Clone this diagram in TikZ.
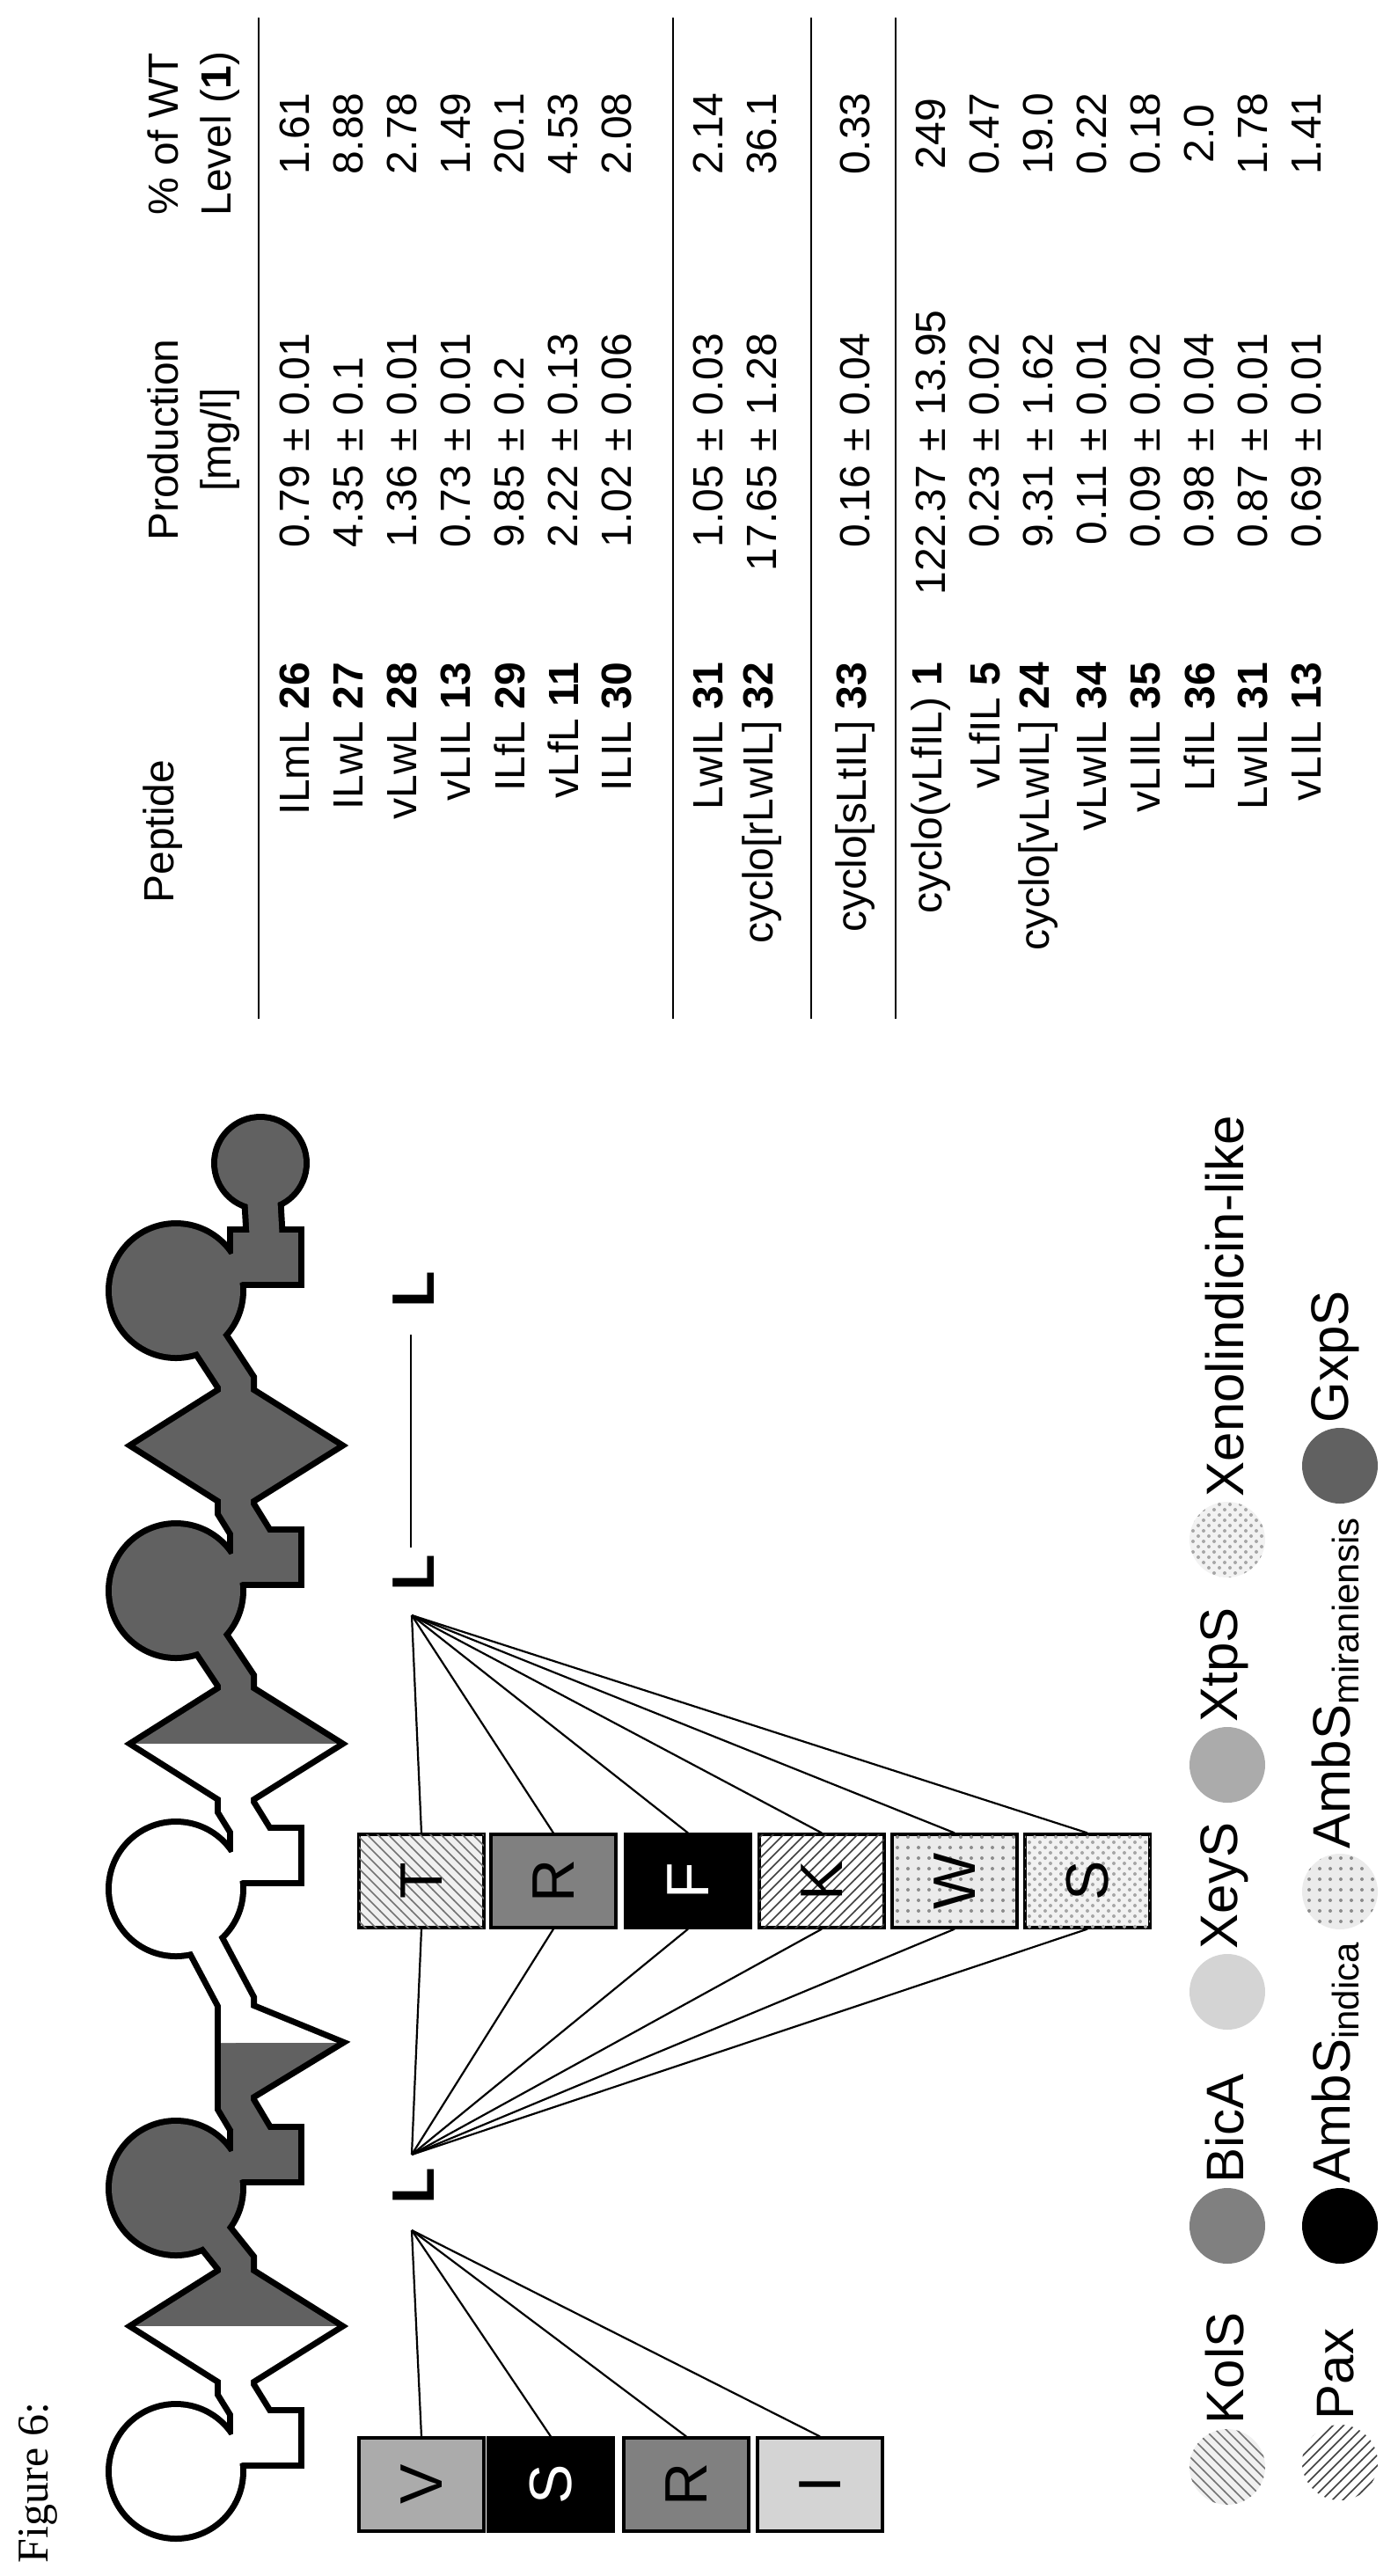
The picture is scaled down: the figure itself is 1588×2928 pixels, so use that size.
\documentclass[tikz,border=0pt]{standalone}
\usepackage{fontspec}
\setmainfont{Liberation Sans}
\newfontfamily\seriffam{Liberation Serif}
\usetikzlibrary{patterns}
\colorlet{dk}{black!62}
\begin{document}
\begin{tikzpicture}[x=0.25pt,y=-0.25pt,
  tbl/.style={rotate=90,inner sep=0pt,font=\fontsize{12}{14}\selectfont},
  hline/.style={line width=0.7pt},
  ol/.style={draw=black,line width=3.5pt},
  neckol/.style={draw=black,line width=12pt},
  neck/.style={line width=8.5pt},
  box/.style={rotate=90,draw=black,line width=0.8pt,minimum width=26.5pt,minimum height=35.5pt,inner sep=0pt,font=\fontsize{17}{17}\selectfont},
  fan/.style={line width=0.55pt},
  Lab/.style={rotate=90,inner sep=0pt,font=\fontsize{17}{17}\selectfont\bfseries},
  lg/.style={rotate=90,anchor=west,inner sep=0pt,font=\fontsize{15}{15}\selectfont},
  pKolS/.style={fill=black!6,postaction={pattern=north west lines,pattern color=black!55}},
  pPax/.style={fill=white,postaction={pattern=north east lines,pattern color=black!75}},
  pBicA/.style={fill=black!50},
  pXeyS/.style={fill=black!17},
  pXtpS/.style={fill=black!33},
  pAmbI/.style={fill=black},
  pAmbM/.style={fill=black!8,postaction={pattern=dots,pattern color=black!45}},
  pXeno/.style={fill=black!5,postaction={pattern=crosshatch dots,pattern color=black!35}},
  pGxp/.style={fill=dk}]
\useasboundingbox (0,0) rectangle (1588,2928);

% ---------------- table ----------------
\node[tbl] (hPep) at (185,945) {Peptide};
\node[tbl] (hProd) at (185,500) {Production};
\node[tbl] (hMg) at (250,500) {[mg/l]};
\node[tbl] (hWT) at (185,152) {\% of WT};
\node[tbl] (hLv) at (250,152) {Level (\textbf{1})};
\coordinate (l1a) at (294,20); \coordinate (l1b) at (294,1158);
\coordinate (l2a) at (765,20); \coordinate (l2b) at (765,1158);
\coordinate (l3a) at (922,20); \coordinate (l3b) at (922,1158);
\coordinate (l4a) at (1018,20); \coordinate (l4b) at (1018,1158);
\draw[hline] (l1a) -- (l1b);
\draw[hline] (l2a) -- (l2b);
\draw[hline] (l3a) -- (l3b);
\draw[hline] (l4a) -- (l4b);
\foreach \r/\n/\a/\b/\p in {
 335/ILmL \textbf{26}/0.79/0.01/1.61,
 396/ILwL \textbf{27}/4.35/0.1/8.88,
 457/vLwL \textbf{28}/1.36/0.01/2.78,
 518/vLIL \textbf{13}/0.73/0.01/1.49,
 579/ILfL \textbf{29}/9.85/0.2/20.1,
 640/vLfL \textbf{11}/2.22/0.13/4.53,
 701/ILIL \textbf{30}/1.02/0.06/2.08,
 805/LwIL \textbf{31}/1.05/0.03/2.14,
 866/cyclo[rLwIL] \textbf{32}/17.65/1.28/36.1,
 972/cyclo[sLtIL] \textbf{33}/0.16/0.04/0.33,
 1058/cyclo(vLfIL) \textbf{1}/122.37/13.95/249,
 1119/vLfIL \textbf{5}/0.23/0.02/0.47,
 1180/cyclo[vLwIL] \textbf{24}/9.31/1.62/19.0,
 1241/vLwIL \textbf{34}/0.11/0.01/0.22,
 1302/vLIIL \textbf{35}/0.09/0.02/0.18,
 1363/LfIL \textbf{36}/0.98/0.04/2.0,
 1424/LwIL \textbf{31}/0.87/0.01/1.78,
 1485/vLIL \textbf{13}/0.69/0.01/1.41}{
  \node[tbl,anchor=east] (pep\r) at (\r,752) {\n};
  \node[tbl,anchor=east] (pa\r) at (\r,514) {\a\kern0.3em};
  \node[tbl,anchor=west] (pb\r) at (\r,514) {±\kern0.3em\b};
  \node[tbl] (pw\r) at (\r,152) {\p};
}

% ---------------- module chain ----------------
\draw[neckol] (200,2809)--(302,2771)--(268,2716)--(268,2644)--(268,2572)--(200,2487)
  --(302,2449)--(268,2392)--(268,2322)--(268,2275)--(200,2147)
  --(302,2109)--(268,2054)--(268,1982)--(268,1910)--(200,1808)
  --(302,1770)--(268,1715)--(268,1643)--(268,1571)--(200,1467)
  --(302,1429)--(296,1322);
\foreach \c in {2809,2487,2147,1808,1467}{
  \path[ol] (200,\c) circle (73);
  \path[ol] (265,\c-66) rectangle (339,\c-10);
}
\path[ol] (296,1322) circle (49);
\foreach \a in {2644,1982,1643}{
  \path[ol] (154,\a)--(268,\a-72)--(383,\a)--(268,\a+72)--cycle;
}
\path[ol] (268,2275)--(383,2322)--(268,2392)--cycle;
\draw[neck,white] (200,2809)--(302,2771)--(268,2716)--(268,2644);
\draw[neck,dk] (268,2644)--(268,2572)--(200,2487)--(302,2449)--(268,2392)--(268,2322);
\draw[neck,white] (268,2322)--(268,2275)--(200,2147)--(302,2109)--(268,2054)--(268,1982);
\draw[neck,dk] (268,1982)--(268,1910)--(200,1808)--(302,1770)--(268,1715)--(268,1643)
  --(268,1571)--(200,1467)--(302,1429)--(296,1322);
\fill[white] (200,2809) circle (73);
\fill[white] (265,2743) rectangle (339,2799);
\fill[dk] (200,2487) circle (73);
\fill[dk] (265,2421) rectangle (339,2477);
\fill[white] (200,2147) circle (73);
\fill[white] (265,2081) rectangle (339,2137);
\fill[dk] (200,1808) circle (73);
\fill[dk] (265,1742) rectangle (339,1798);
\fill[dk] (200,1467) circle (73);
\fill[dk] (265,1401) rectangle (339,1457);
\fill[dk] (296,1322) circle (49);
\fill[dk] (154,2644)--(268,2572)--(383,2644)--cycle;
\fill[white] (154,2644)--(383,2644)--(268,2716)--cycle;
\fill[white] (268,2275)--(383,2322)--(268,2322)--cycle;
\fill[dk] (268,2322)--(383,2322)--(268,2392)--cycle;
\fill[dk] (154,1982)--(268,1910)--(383,1982)--cycle;
\fill[white] (154,1982)--(383,1982)--(268,2054)--cycle;
\fill[dk] (154,1643)--(268,1571)--(383,1643)--(268,1715)--cycle;

% ---------------- L labels ----------------
\node[Lab] (L1) at (470,2485) {L};
\node[Lab] (L2) at (470,1788) {L};
\node[Lab] (L3) at (470,1466) {L};
\coordinate (La) at (467,1517);
\coordinate (Lb) at (467,1759);
\draw[line width=0.7pt] (La) -- (Lb);
\coordinate (P1) at (468,2535);
\coordinate (P2) at (468,2449);
\coordinate (P3) at (468,1836);

% ---------------- boxes ----------------
\node[box,pXtpS] (bV) at (479,2824) {V};
\node[box,pAmbI,text=white] (bS) at (626,2824) {S};
\node[box,pBicA] (bR) at (780,2824) {R};
\node[box,pXeyS] (bI) at (932,2824) {I};
\node[box,pKolS] (cT) at (479,2138) {T};
\node[box,pBicA] (cR) at (629,2138) {R};
\node[box,pAmbI,text=white] (cF) at (782,2138) {F};
\node[box,pPax] (cK) at (934,2138) {K};
\node[box,pAmbM] (cW) at (1085,2138) {W};
\node[box,pXeno] (cS) at (1236,2138) {S};
\foreach \b in {bV,bS,bR,bI}{\draw[fan] (P1) -- (\b.east);}
\foreach \b in {cT,cR,cF,cK,cW,cS}{\draw[fan] (P3) -- (\b.east); \draw[fan] (P2) -- (\b.west);}

% ---------------- legend ----------------
\path[pKolS] (1395,2804) circle (43);  \node[lg] (tKolS) at (1392,2756) {KolS};
\path[pBicA] (1395,2530) circle (43);  \node[lg] (tBicA) at (1392,2482) {BicA};
\path[pXeyS] (1395,2264) circle (43);  \node[lg] (tXeyS) at (1392,2216) {XeyS};
\path[pXtpS] (1395,2006) circle (43);  \node[lg] (tXtpS) at (1392,1958) {XtpS};
\path[pXeno] (1395,1750) circle (43);  \node[lg] (tXeno) at (1392,1702) {Xenolindicin-like};
\path[pPax] (1523,2799) circle (43);   \node[lg] (tPax) at (1518,2751) {Pax};
\path[pAmbI] (1523,2530) circle (43);  \node[lg] (tAmbI) at (1518,2482) {AmbS\textsubscript{indica}};
\path[pAmbM] (1523,2150) circle (43);  \node[lg] (tAmbM) at (1518,2102) {AmbS\textsubscript{miraniensis}};
\path[pGxp] (1523,1666) circle (43);   \node[lg] (tGxp) at (1518,1618) {GxpS};

% ---------------- caption ----------------
\node[rotate=90,inner sep=0pt,font=\seriffam\fontsize{12.5}{13}\selectfont] (fig) at (43,2822) {Figure 6:};
\end{tikzpicture}
\end{document}
